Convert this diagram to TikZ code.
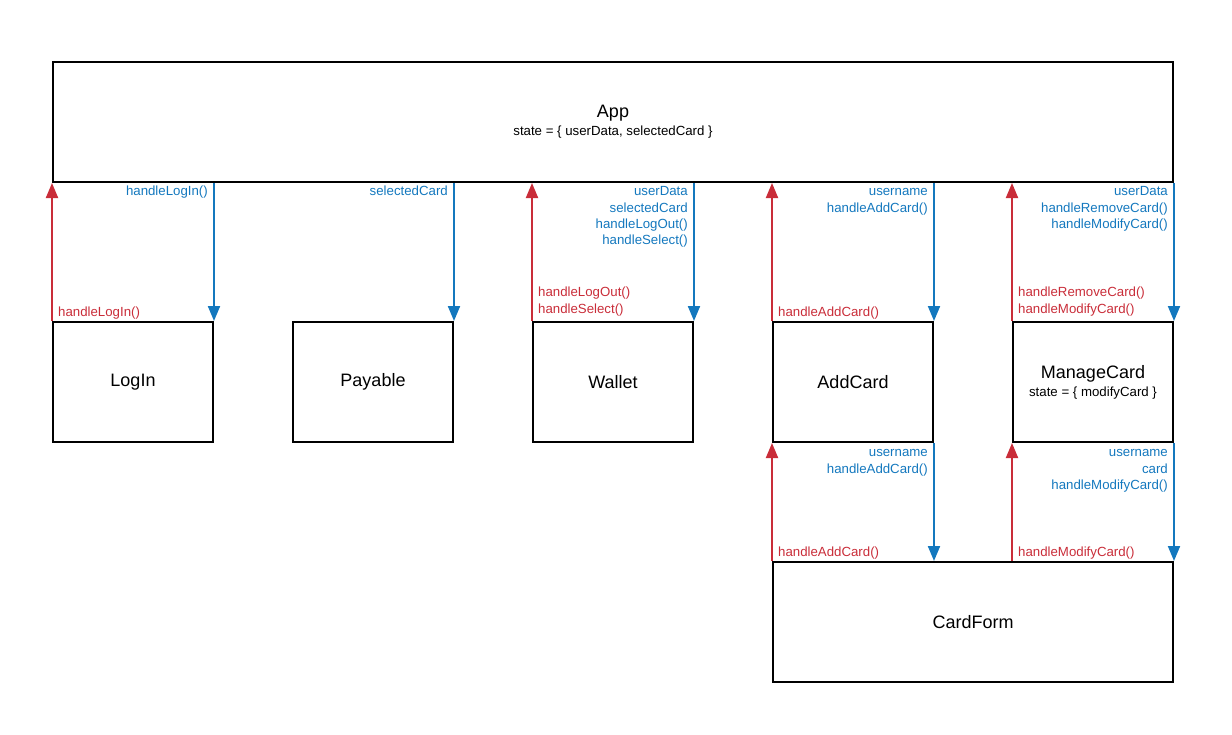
\documentclass[tikz,border=0pt]{standalone}
\usepackage{fontspec}
\setmainfont{Liberation Sans}
\usetikzlibrary{arrows.meta}
\definecolor{cred}{RGB}{201,45,57}
\definecolor{cblue}{RGB}{20,120,190}
\newcommand{\fl}{\vphantom{hd}}
\begin{document}
\begin{tikzpicture}[x=1pt,y=-1pt,
  comp/.style={draw=black,line width=2pt,minimum width=160pt,minimum height=120pt,inner sep=0pt,font=\fontsize{18}{21}\selectfont,align=center},
  uparr/.style={draw=cred,line width=2pt,-{Triangle[length=15pt,width=12pt]}},
  downarr/.style={draw=cblue,line width=2pt,-{Triangle[length=15pt,width=12pt]}},
  bl/.style={text=cblue,font=\fontsize{13.25}{16.3}\selectfont,align=right,inner sep=0pt,anchor=north east},
  rl/.style={text=cred,font=\fontsize{13.25}{16.3}\selectfont,align=left,inner sep=0pt,anchor=south west}]
\useasboundingbox (0,0) rectangle (1232,734);
\node[comp,minimum width=1120pt] (App) at (613,122) {App\\[-3pt]{\fontsize{13.25}{15}\selectfont state = \{ userData, selectedCard \}}};
\node[comp] (LogIn) at (133,382) {LogIn};
\node[comp] (Payable) at (373,382) {Payable};
\node[comp] (Wallet) at (613,382) {Wallet};
\node[comp] (AddCard) at (853,382) {AddCard};
\node[comp] (ManageCard) at (1093,382) {ManageCard\\[-3pt]{\fontsize{13.25}{15}\selectfont state = \{ modifyCard \}}};
\node[comp,minimum width=400pt] (CardForm) at (973,622) {CardForm};
% arrows App level
\draw[uparr] (LogIn.north west) -- (LogIn.north west |- App.south);
\draw[downarr] (LogIn.north east |- App.south) -- (LogIn.north east);
\draw[downarr] (Payable.north east |- App.south) -- (Payable.north east);
\draw[uparr] (Wallet.north west) -- (Wallet.north west |- App.south);
\draw[downarr] (Wallet.north east |- App.south) -- (Wallet.north east);
\draw[uparr] (AddCard.north west) -- (AddCard.north west |- App.south);
\draw[downarr] (AddCard.north east |- App.south) -- (AddCard.north east);
\draw[uparr] (ManageCard.north west) -- (ManageCard.north west |- App.south);
\draw[downarr] (ManageCard.north east |- App.south) -- (ManageCard.north east);
% CardForm level
\draw[uparr] (CardForm.north west) -- (AddCard.south west);
\draw[downarr] (AddCard.south east) -- (AddCard.south east |- CardForm.north);
\draw[uparr] (ManageCard.south west |- CardForm.north) -- (ManageCard.south west);
\draw[downarr] (ManageCard.south east) -- (CardForm.north east);
% labels
\node[bl] (l1) at (208,186) {\fl handleLogIn()};
\node[rl] (l2) at (58,319) {handleLogIn()};
\node[bl] (l3) at (448,186) {\fl selectedCard};
\node[rl] (l4) at (538,316) {handleLogOut()\\handleSelect()};
\node[bl] (l5) at (688,186) {\fl userData\\selectedCard\\handleLogOut()\\handleSelect()};
\node[rl] (l6) at (778,319) {handleAddCard()};
\node[bl] (l7) at (928,186) {\fl username\\handleAddCard()};
\node[rl] (l8) at (1018,316) {handleRemoveCard()\\handleModifyCard()};
\node[bl] (l9) at (1168,186) {\fl userData\\handleRemoveCard()\\handleModifyCard()};
\node[bl] (l10) at (928,447) {\fl username\\handleAddCard()};
\node[rl] (l11) at (778,559) {handleAddCard()};
\node[bl] (l12) at (1168,447) {\fl username\\card\\handleModifyCard()};
\node[rl] (l13) at (1018,559) {handleModifyCard()};
\end{tikzpicture}
\end{document}
